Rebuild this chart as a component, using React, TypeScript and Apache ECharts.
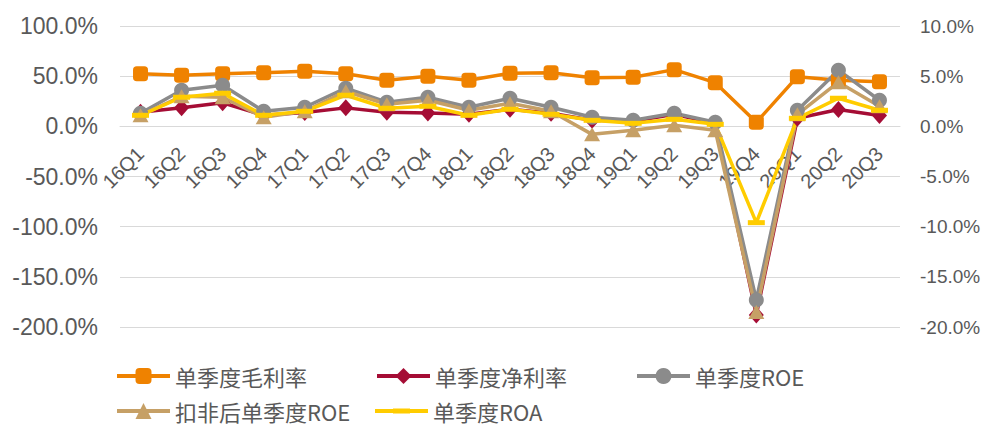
import React, { useEffect, useRef } from "react";
import * as echarts from "echarts";

const categories = ["16Q1","16Q2","16Q3","16Q4","17Q1","17Q2","17Q3","17Q4","18Q1","18Q2","18Q3","18Q4","19Q1","19Q2","19Q3","19Q4","20Q1","20Q2","20Q3"];
// left axis (%)
const grossMargin = [52.5, 51, 52.5, 53.5, 55, 52.5, 46, 50, 46, 53, 53.5, 48.5, 49, 56.5, 43.5, 4, 49.5, 46, 44.5];
const netMargin = [14, 18.5, 23.5, 11, 13.7, 18.4, 14, 13.4, 12, 17, 13, 6, 5, 12, 3, -188, 8, 16.7, 10.7];
// right axis (%)
const roe = [1.3, 3.6, 4.1, 1.5, 1.9, 3.8, 2.4, 2.9, 1.9, 2.8, 1.9, 0.9, 0.6, 1.3, 0.4, -17.3, 1.6, 5.6, 2.6];
const roeDeducted = [1.1, 3.0, 2.9, 0.9, 1.5, 3.5, 2.2, 2.6, 1.6, 2.3, 1.5, -0.8, -0.4, 0.1, -0.4, -18.5, 1.2, 4.4, 2.0];
const roa = [1.1, 2.9, 3.3, 1.1, 1.5, 3.1, 1.8, 2.0, 1.1, 1.7, 1.2, 0.6, 0.3, 0.7, 0.2, -9.6, 0.8, 2.8, 1.6];

const names = ["单季度毛利率", "单季度净利率", "单季度ROE", "扣非后单季度ROE", "单季度ROA"];
const colors = ["#EF8200", "#A50D35", "#8B8B8B", "#C6A066", "#FFCC00"];

const latin = 'Arial, "Liberation Sans", sans-serif';
const cjk = '"Noto Sans CJK SC", "Microsoft YaHei", sans-serif';

const LEFT_MIN = -200;
const LEFT_MAX = 100;

// legend icon for the dash-marker series: line with a slightly thicker dash in the middle
const dashLegendIcon =
  "path://M0,0L0.01,0L0,0.01Z M53,20L52.99,20L53,19.99Z M0,8H53V12H0Z M18,7.5H35V12.5H18Z";

export default function App() {
  const ref = useRef<HTMLDivElement>(null);
  useEffect(() => {
    if (!ref.current) return;
    const chart = echarts.init(ref.current, undefined, { renderer: "svg" });
    const mk = (i: number, data: number[], yAxisIndex: number, symbol: string, symbolSize: any) => ({
      name: names[i],
      type: "line",
      data,
      yAxisIndex,
      symbol,
      symbolSize,
      lineStyle: { color: colors[i], width: 3.5 },
      itemStyle: { color: colors[i] },
      emphasis: { disabled: true },
    });
    const legendPos = [
      [115, 365],
      [375, 365],
      [635, 365],
      [115, 400],
      [375, 400],
    ];
    const top = 26;
    const height = 301;
    const zeroHeight = (height * LEFT_MAX) / (LEFT_MAX - LEFT_MIN);
    chart.setOption({
      animation: false,
      backgroundColor: "#ffffff",
      grid: [
        { left: 120, right: 87, top, height, containLabel: false },
        { left: 120, right: 87, top, height: zeroHeight, containLabel: false },
      ],
      legend: names.map((n, i) => ({
        data: [i === 4 ? { name: n, icon: dashLegendIcon } : n],
        left: legendPos[i][0],
        top: legendPos[i][1],
        padding: 0,
        itemWidth: 53,
        itemHeight: 20,
        itemGap: 5,
        lineStyle: { width: 4 },
        textStyle: { fontSize: 22, color: "#595959", fontFamily: cjk, padding: [0, 0, 0, 0] },
      })),
      xAxis: [
        {
          type: "category",
          gridIndex: 0,
          data: categories,
          boundaryGap: true,
          axisLine: { show: false },
          axisTick: { show: false },
          axisLabel: { show: false },
        },
        {
          type: "category",
          gridIndex: 1,
          data: categories,
          boundaryGap: true,
          axisLine: { show: true, lineStyle: { color: "#D9D9D9", width: 1 } },
          axisTick: { show: false },
          axisLabel: {
            interval: 0,
            rotate: 45,
            margin: 24,
            fontSize: 20,
            color: "#595959",
            fontFamily: latin,
          },
        },
      ],
      yAxis: [
        {
          type: "value",
          gridIndex: 0,
          min: LEFT_MIN,
          max: LEFT_MAX,
          interval: 50,
          axisLine: { show: false },
          axisTick: { show: false },
          splitLine: { lineStyle: { color: "#D9D9D9", width: 1 } },
          axisLabel: {
            margin: 22,
            fontSize: 23,
            color: "#595959",
            fontFamily: latin,
            formatter: (v: number) => v.toFixed(1) + "%",
          },
        },
        {
          type: "value",
          gridIndex: 0,
          min: -20,
          max: 10,
          interval: 5,
          axisLine: { show: false },
          axisTick: { show: false },
          splitLine: { show: false },
          axisLabel: {
            margin: 20,
            fontSize: 19,
            color: "#595959",
            fontFamily: latin,
            formatter: (v: number) => v.toFixed(1) + "%",
          },
        },
        {
          type: "value",
          gridIndex: 1,
          min: 0,
          max: LEFT_MAX,
          show: false,
        },
      ],
      series: [
        mk(0, grossMargin, 0, "roundRect", 15),
        mk(1, netMargin, 0, "diamond", [15, 17]),
        mk(2, roe, 1, "circle", 15),
        mk(3, roeDeducted, 1, "triangle", [16, 14]),
        mk(4, roa, 1, "rect", [17, 5]),
      ],
    });
    return () => chart.dispose();
  }, []);
  return <div ref={ref} style={{ position: "fixed", left: 0, top: 0, width: 987, height: 430 }} />;
}
